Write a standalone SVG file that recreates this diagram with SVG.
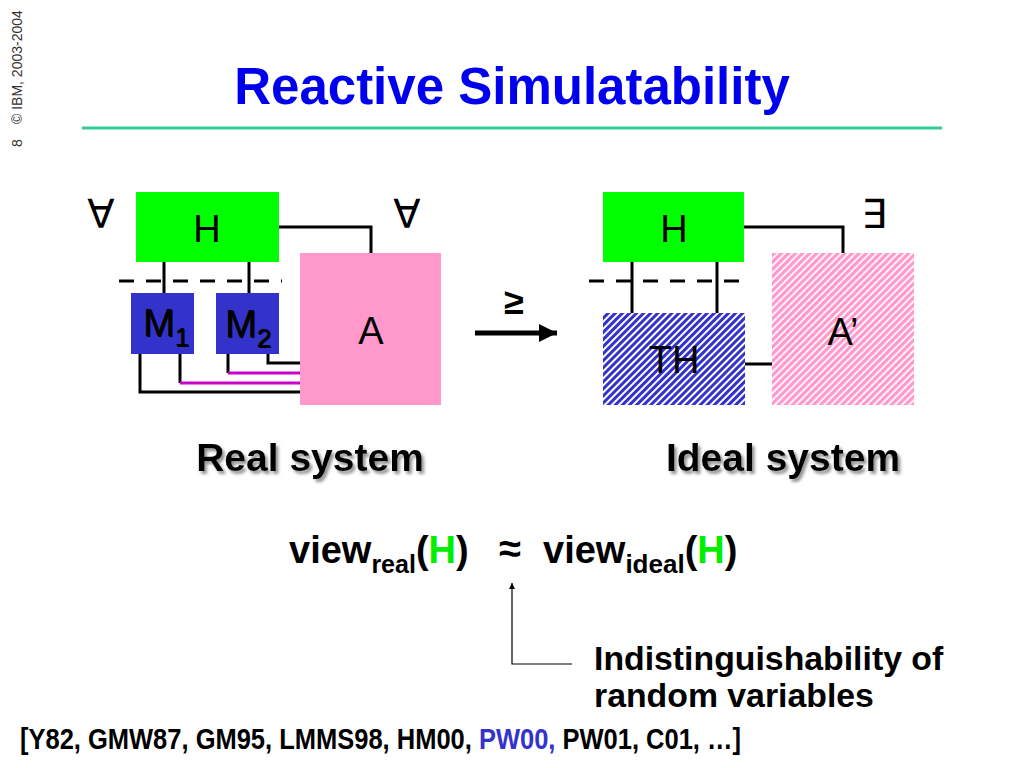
<svg xmlns="http://www.w3.org/2000/svg" width="1024" height="768" viewBox="0 0 1024 768">
<style>
.t{font-family:"Liberation Sans",Arial,sans-serif;}
.b{font-family:"Liberation Sans",Arial,sans-serif;font-weight:bold;}
.box{font-family:"Liberation Sans",Arial,sans-serif;font-size:38px;fill:#000;}
.sym{font-family:"DejaVu Sans",sans-serif;font-size:40px;fill:#000;}
.w{stroke:#000;stroke-width:3;fill:none;}
.m{stroke:#CC00CC;stroke-width:3;fill:none;}
.d{stroke:#000;stroke-width:3;fill:none;stroke-dasharray:15 12;}
</style>
<defs>
<pattern id="hb" width="5" height="5" patternUnits="userSpaceOnUse" patternTransform="rotate(45)">
<rect width="5" height="5" fill="#ffffff"/>
<rect width="3" height="5" fill="#3333CC"/>
</pattern>
<pattern id="hp" width="5" height="5" patternUnits="userSpaceOnUse" patternTransform="rotate(45)">
<rect width="5" height="5" fill="#ffffff"/>
<rect width="3.3" height="5" fill="#FF99CC"/>
</pattern>
<filter id="sh" x="-10%" y="-20%" width="130%" height="160%">
<feDropShadow dx="2.5" dy="3" stdDeviation="1.5" flood-color="#777" flood-opacity="0.8"/>
</filter>
<marker id="ah" viewBox="0 0 10 10" refX="10" refY="5" markerWidth="6" markerHeight="8" markerUnits="userSpaceOnUse" orient="auto">
<path d="M0,0 L10,5 L0,10 z" fill="#000"/>
</marker>
<marker id="ab" viewBox="0 0 10 10" refX="10" refY="5" markerWidth="18" markerHeight="18" markerUnits="userSpaceOnUse" orient="auto">
<path d="M0,0 L10,5 L0,10 z" fill="#000"/>
</marker>
</defs>
<rect width="1024" height="768" fill="#ffffff"/>

<g id="footer-side" class="t" fill="#333" font-size="14">
<text transform="translate(22,147) rotate(-90)">8</text>
<text transform="translate(22,124) rotate(-90)">© IBM, 2003-2004</text>
</g>

<g id="title">
<text class="b" x="512" y="104" text-anchor="middle" font-size="51" fill="#0000EE">Reactive Simulatability</text>
<line x1="82" y1="128" x2="942" y2="128" stroke="#33CC99" stroke-width="3"/>
</g>

<g id="connectors">
<!-- real system -->
<polyline class="w" points="279,227 371,227 371,253"/>
<line class="d" x1="119" y1="281" x2="282" y2="281"/>
<line class="w" x1="164" y1="262" x2="164" y2="293"/>
<line class="w" x1="249" y1="262" x2="249" y2="293"/>
<polyline class="w" points="140,354 140,392 300,392"/>
<polyline class="w" points="180,354 180,383"/>
<line class="m" x1="180" y1="383" x2="300" y2="383"/>
<polyline class="w" points="228,354 228,373"/>
<line class="m" x1="228" y1="373" x2="300" y2="373"/>
<polyline class="w" points="268,354 268,363 300,363"/>
<!-- ideal system -->
<polyline class="w" points="744,227 843,227 843,253"/>
<line class="d" x1="589" y1="281" x2="750" y2="281"/>
<line class="w" x1="632" y1="262" x2="632" y2="313"/>
<line class="w" x1="717" y1="262" x2="717" y2="313"/>
<line class="w" x1="745" y1="364" x2="772" y2="364"/>
<!-- transformation arrow -->
<line x1="475" y1="333" x2="557" y2="333" stroke="#000" stroke-width="5" marker-end="url(#ab)"/>
<!-- annotation arrow -->
<polyline points="572,664 512,664 512,583" fill="none" stroke="#000" stroke-width="1.2" marker-end="url(#ah)"/>
</g>

<g id="node-H-real">
<rect x="136" y="192" width="143" height="70" fill="#00FF00"/>
<text class="box" x="207" y="242" text-anchor="middle">H</text>
</g>
<g id="node-M1">
<rect x="131" y="293" width="63" height="61" fill="#3333CC"/>
<text class="box" x="144" y="337" font-size="33" fill="#ccd">M<tspan font-size="26" dy="10">1</tspan></text>
<text class="box" x="143" y="336" font-size="33">M<tspan font-size="26" dy="10">1</tspan></text>
</g>
<g id="node-M2">
<rect x="216" y="293" width="63" height="61" fill="#3333CC"/>
<text class="box" x="226" y="338" font-size="37" fill="#ccd">M<tspan font-size="26" dy="10">2</tspan></text>
<text class="box" x="225" y="337" font-size="37">M<tspan font-size="26" dy="10">2</tspan></text>
</g>
<g id="node-A">
<rect x="300" y="253" width="141" height="152" fill="#FF99CC"/>
<text class="box" x="371" y="344" text-anchor="middle">A</text>
</g>
<g id="quant-real">
<text class="sym" x="101" y="228" text-anchor="middle">∀</text>
<text class="sym" x="407" y="228" text-anchor="middle">∀</text>
</g>

<g id="node-H-ideal">
<rect x="603" y="192" width="141" height="70" fill="#00FF00"/>
<text class="box" x="674" y="242" text-anchor="middle">H</text>
</g>
<g id="node-TH">
<rect x="603" y="313" width="142" height="92" fill="url(#hb)"/>
<text class="box" x="674" y="373" text-anchor="middle">TH</text>
</g>
<g id="node-A-prime">
<rect x="772" y="253" width="142" height="152" fill="url(#hp)"/>
<text class="box" x="843" y="345" text-anchor="middle">A’</text>
</g>
<g id="quant-ideal">
<text class="sym" x="874" y="228" text-anchor="middle">∃</text>
</g>
<g id="geq">
<text class="t" x="514" y="314" text-anchor="middle" font-size="36" font-weight="bold">≥</text>
</g>

<g id="labels" class="b" font-size="39" filter="url(#sh)">
<text x="310" y="471" text-anchor="middle">Real system</text>
<text x="783" y="471" text-anchor="middle">Ideal system</text>
</g>

<g id="formula" class="b" font-size="38">
<text x="289" y="563">view<tspan font-size="25" dy="10">real</tspan><tspan dy="-10">(</tspan><tspan fill="#00EE00">H</tspan>)</text>
<text class="t" x="510" y="562" text-anchor="middle" font-size="40" font-weight="bold">≈</text>
<text x="543" y="563">view<tspan font-size="26" dy="10">ideal</tspan><tspan dy="-10">(</tspan><tspan fill="#00EE00">H</tspan>)</text>
</g>

<g id="note" class="b" font-size="33.8">
<text x="594" y="670">Indistinguishability of</text>
<text x="594" y="707">random variables</text>
</g>

<g id="refs" class="b" font-size="30">
<text transform="translate(20,749) scale(0.85,1)">[Y82, GMW87, GM95, LMMS98, HM00, <tspan fill="#3333CC">PW00,</tspan> PW01, C01, …]</text>
</g>
</svg>
